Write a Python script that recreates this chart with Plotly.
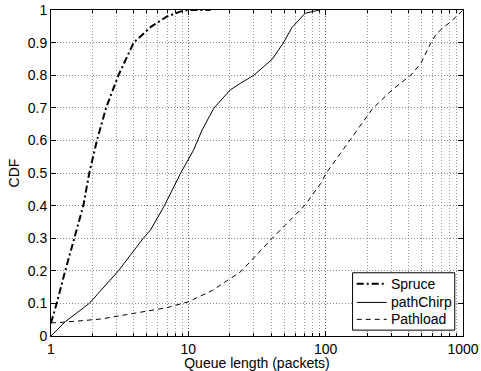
import plotly.graph_objects as go

# Queue length samples (packets) and their empirical CDF values per tool
spruce_x = [1.0, 1.10, 1.27, 1.47, 1.72, 1.90, 2.16, 2.52, 3.1, 4.0, 5.4, 7.0, 8.7, 10.0, 14.5]
spruce_y = [0.04, 0.10, 0.20, 0.30, 0.40, 0.50, 0.60, 0.70, 0.80, 0.90, 0.95, 0.98, 0.995, 1.0, 1.0]

pathchirp_x = [1.0, 1.27, 1.9, 3.1, 4.7, 5.3, 6.7, 8.8, 10.9, 12.6, 15.3, 20.2, 23.9, 30, 40.8, 49, 57, 71, 84, 90]
pathchirp_y = [0.0, 0.044, 0.10, 0.20, 0.30, 0.325, 0.40, 0.50, 0.57, 0.632, 0.698, 0.755, 0.775, 0.80, 0.849, 0.898, 0.947, 0.99, 0.997, 1.0]

pathload_x = [1.0, 1.3, 2.3, 5.3, 7, 10, 15, 20, 24, 26.8, 40.8, 71, 92, 101, 144, 202, 220, 305, 352, 416, 493, 540, 585, 631, 706, 815, 960, 1000]
pathload_y = [0.04, 0.043, 0.052, 0.077, 0.087, 0.105, 0.14, 0.175, 0.197, 0.218, 0.30, 0.402, 0.468, 0.50, 0.591, 0.678, 0.698, 0.755, 0.775, 0.80, 0.836, 0.872, 0.90, 0.923, 0.944, 0.964, 0.995, 1.0]

series_names = ["Spruce", "pathChirp", "Pathload"]

x_ticks = [1, 10, 100, 1000]
x_tick_labels = ["1", "10", "100", "1000"]
y_ticks = [0, 0.1, 0.2, 0.3, 0.4, 0.5, 0.6, 0.7, 0.8, 0.9, 1]
y_tick_labels = ["0", "0.1", "0.2", "0.3", "0.4", "0.5", "0.6", "0.7", "0.8", "0.9", "1"]
x_minor = [m * d for d in (1, 10, 100) for m in range(2, 10)]

FONT = "Liberation Sans, Arial, sans-serif"
GRID_DASH = "1px,2px"

# line styles per series (MATLAB-like: dash-dot bold, solid, dashed)
line_styles = [
    dict(color="black", width=2, dash="7px,3px,2px,3px"),
    dict(color="black", width=1),
    dict(color="black", width=1, dash="5px,4px"),
]

fig = go.Figure()
for name, xs, ys, style in zip(series_names,
                               [spruce_x, pathchirp_x, pathload_x],
                               [spruce_y, pathchirp_y, pathload_y],
                               line_styles):
    fig.add_trace(go.Scatter(x=xs, y=ys, mode="lines", name=name, line=style, showlegend=False))

axis_common = dict(
    showline=True, linecolor="black", linewidth=1, mirror="allticks",
    ticks="inside", ticklen=5, tickcolor="black",
    showgrid=True, gridcolor="#666666", griddash=GRID_DASH, gridwidth=1,
    zeroline=False, automargin=False,
    tickfont=dict(family=FONT, size=14, color="black"),
)

fig.update_xaxes(
    type="log", range=[0, 3], tickmode="array", tickvals=x_ticks, ticktext=x_tick_labels,
    minor=dict(tickmode="array", tickvals=x_minor, ticks="inside", ticklen=3, tickcolor="black",
               showgrid=True, gridcolor="#9a9a9a", griddash=GRID_DASH, gridwidth=1),
    title=dict(text="Queue length (packets)", font=dict(family=FONT, size=14, color="black"), standoff=2),
    **axis_common,
)
fig.update_yaxes(
    range=[0, 1], tickmode="array", tickvals=y_ticks, ticktext=y_tick_labels,
    title=dict(text="CDF", font=dict(family=FONT, size=14, color="black"), standoff=4),
    **axis_common,
)
fig.update_yaxes(gridcolor="#8a8a8a")

# Compact boxed legend in the lower-right corner (paper coordinates)
box_x0, box_x1 = 0.732, 0.980
box_y0, box_y1 = 0.018, 0.194
fig.add_shape(type="rect", xref="paper", yref="paper",
              x0=box_x0, x1=box_x1, y0=box_y0, y1=box_y1,
              line=dict(color="black", width=1), fillcolor="white", layer="above")
row_y = [0.160, 0.103, 0.051]
sample_x0, sample_x1 = 0.742, 0.815
for name, style, ry in zip(series_names, line_styles, row_y):
    fig.add_shape(type="line", xref="paper", yref="paper",
                  x0=sample_x0, x1=sample_x1, y0=ry, y1=ry,
                  line=style, layer="above")
    fig.add_annotation(xref="paper", yref="paper", x=0.820, y=ry,
                       xanchor="left", yanchor="middle", showarrow=False,
                       text=name, font=dict(family=FONT, size=14, color="black"))

fig.update_layout(
    width=481, height=371,
    margin=dict(l=51, r=18, t=10, b=35),
    paper_bgcolor="white", plot_bgcolor="white",
    showlegend=False,
)

fig.write_html("out.html")
